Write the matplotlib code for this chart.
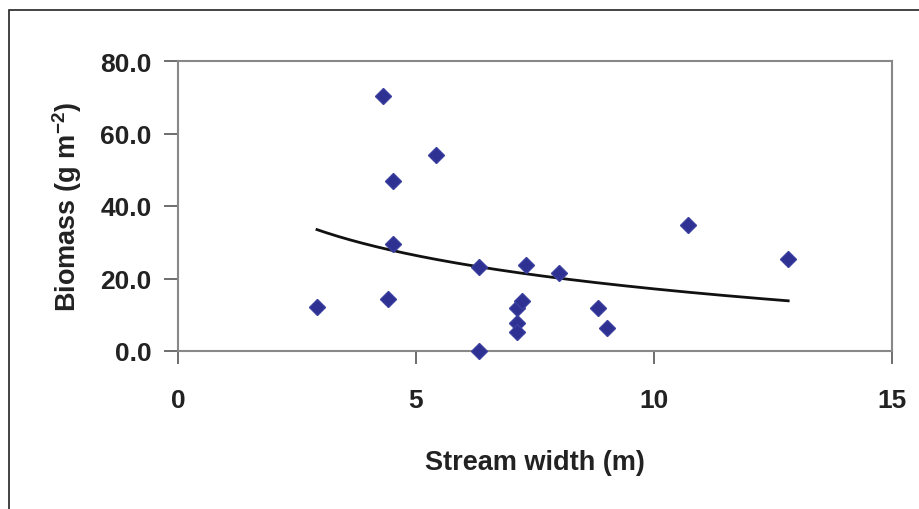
import matplotlib.pyplot as plt
import numpy as np
from matplotlib.patches import Rectangle

# stream width (m) and biomass (g m-2)
widths = [2.92, 4.31, 4.41, 4.52, 4.52, 5.42, 6.33, 6.33, 7.12, 7.22,
          7.12, 7.12, 7.31, 8.01, 8.82, 9.02, 10.71, 12.82]
biomass = [12.1, 70.3, 14.3, 46.9, 29.5, 54.1, 23.1, 0.0, 11.8, 13.7,
           7.6, 5.2, 23.7, 21.5, 11.8, 6.3, 34.8, 25.4]

x_ticks = [0, 5, 10, 15]
y_ticks = [0, 20, 40, 60, 80]

widths = np.array(widths)
biomass = np.array(biomass)

# logarithmic trend line, like the spreadsheet one
b, a = np.polyfit(np.log(widths), biomass, 1)
trend_x = np.linspace(widths.min(), widths.max(), 200)
trend_y = a + b * np.log(trend_x)

plt.rcParams['font.family'] = ['Liberation Sans', 'DejaVu Sans']
plt.rcParams['mathtext.fontset'] = 'custom'
plt.rcParams['mathtext.bf'] = 'Liberation Sans:bold'
plt.rcParams['mathtext.rm'] = 'Liberation Sans:bold'
plt.rcParams['mathtext.default'] = 'bf'

fig = plt.figure(figsize=(9.19, 5.10), dpi=100)
ax = fig.add_axes([178/919, 1 - 352/510, (892 - 178)/919, (352 - 62)/510])

# outer chart frame
fig.patches.append(Rectangle((9/919, -0.05), 1.0, 1 - 11/510 + 0.05,
                             transform=fig.transFigure, fill=False,
                             edgecolor='#222222', linewidth=1.2))

ax.plot(trend_x, trend_y, color='#111111', linewidth=2)
ax.plot(widths, biomass, linestyle='none', marker='D', markersize=8.5,
        markerfacecolor='#2e3192', markeredgecolor='#3a3fa0',
        clip_on=False, zorder=3)

ax.set_xlim(0, 15)
ax.set_ylim(0, 80)
ax.set_xticks(x_ticks)
ax.set_yticks(y_ticks)
ax.set_yticklabels([f'{v:.1f}' for v in y_ticks])

for s in ax.spines.values():
    s.set_color('#888888')
    s.set_linewidth(1.5)

ax.tick_params(axis='y', direction='out', length=10, width=1.2, color='#555555',
               labelsize=19, pad=9)
ax.tick_params(axis='x', direction='out', length=9, width=1.2, color='#555555',
               labelsize=19, pad=18)
for lbl in ax.get_xticklabels() + ax.get_yticklabels():
    lbl.set_fontweight('bold')
    lbl.set_color('#222222')

ax.set_xlabel('Stream width (m)', fontsize=19.5, fontweight='bold',
              color='#222222', labelpad=26)
ax.set_ylabel('Biomass (g m$^{-2}$)', fontsize=19.5, fontweight='bold',
              color='#222222', labelpad=12)

fig.savefig('out.png', dpi=100)
